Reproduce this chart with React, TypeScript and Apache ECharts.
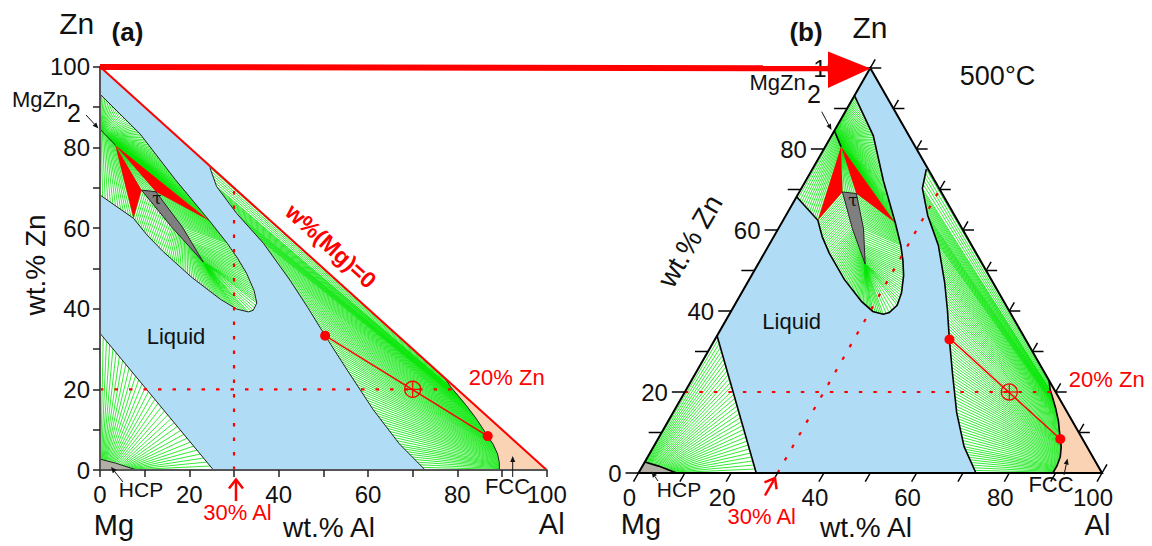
import React, { useEffect, useRef } from "react";
import * as echarts from "echarts";

const FONT = "'Liberation Sans', Arial, Helvetica, sans-serif";

// Compositions are [wt.% Al, wt.% Zn]; Mg is the balance.
const systemTriangle = [[0, 0], [100, 0], [0, 100]];
const alZnEdge = [[0, 100], [100, 0]];

// Mg-rich corner: HCP and L + HCP
const hcpSolvus = [[0, 2.7], [3.5, 1.7], [8.2, 0]];
const hcpLiquidus = [[0, 33.9], [25.4, 0]];
// tie-line anchors: [solid Al, solid Zn, liquid Al, liquid Zn]
const hcpTies = [
  [0, 2.7, 0, 33.9],
  [1.5, 2.27, 6.5, 25.2],
  [3.5, 1.7, 13.0, 16.55],
  [6.0, 0.8, 19.5, 7.9],
  [8.2, 0, 25.4, 0],
];

// Al-rich side: FCC and L + FCC (points pair up by index as tie-line ends)
const fccLiquidus = [
  [24.6, 75.0], [26.1, 70.3], [30.6, 63.6], [36.6, 56.2], [42.5, 47.1], [46.5, 40.3],
  [50.4, 33.3], [55.5, 24.5], [61.2, 14.9], [67.0, 6.5], [72.8, 0],
];
const fccSolidus = [
  [77.2, 22.8], [78.5, 20.6], [80.2, 18.4], [82.0, 16.0], [84.2, 12.8], [85.6, 10.4],
  [86.8, 8.4], [88.0, 6.4], [89.0, 4.0], [89.4, 1.8], [89.4, 0],
];

// Zn-rich lens: MgZn2, tau and the liquid around them
const lensUpper = [
  [0, 93.2], [9.0, 83.3], [16.8, 72.1], [24.5, 61.8], [28.5, 56.2], [30.8, 52.5],
  [32.8, 48.8], [34.5, 44.5], [35.1, 41.4], [34.3, 39.6], [33.2, 39.2],
];
const lensLower = [
  [33.2, 39.2], [30.6, 39.9], [27.0, 42.3], [20.5, 47.8], [14.0, 54.3], [10.5, 58.3],
  [7.5, 62.4], [0, 68.2],
];
const mgZn2Line = [[0, 84.5], [3.4, 80.6]];
const tauPhase = [[9.3, 69.4], [12.5, 69.0], [18.4, 60.3], [23.1, 51.6], [16.0, 60.3]];
const threePhaseLeft = [[3.4, 80.6], [7.5, 62.4], [9.3, 69.4]];
const threePhaseRight = [[3.4, 80.6], [24.5, 61.8], [12.5, 69.0]];
const mgZn2UpperTies = [
  [0, 84.5, 0, 93.2],
  [1.7, 82.55, 9.0, 83.3],
  [3.4, 80.6, 16.8, 72.1],
  [3.4, 80.6, 24.5, 61.8],
];
const mgZn2LowerTies = [
  [0, 84.5, 0, 68.2],
  [3.4, 80.6, 7.5, 62.4],
];
const mgZn2TauTies = [
  [3.4, 80.6, 9.3, 69.4],
  [3.4, 80.6, 12.5, 69.0],
];
const tauLiquidTies = [
  [9.3, 69.4, 7.5, 62.4],
  [12.65, 64.85, 10.5, 58.3],
  [16.0, 60.3, 14.0, 54.3],
  [20.0, 55.4, 20.5, 47.8],
  [23.1, 51.6, 27.0, 42.3],
  [23.1, 51.6, 30.6, 39.9],
  [23.1, 51.6, 33.2, 39.2],
  [23.1, 51.6, 34.3, 39.6],
  [23.1, 51.6, 35.1, 41.4],
  [23.1, 51.6, 34.5, 44.5],
  [22.0, 53.6, 32.8, 48.8],
  [20.5, 56.4, 30.8, 52.5],
  [18.4, 60.3, 28.5, 56.2],
  [12.5, 69.0, 24.5, 61.8],
];

// Example alloy Mg-30Al-20Zn and its tie line
const zn20Line = [[0, 20], [80, 20]];
const al30Line = [[30, 0], [30, 70]];
const tieLineEnds = [[50.4, 33.3], [86.8, 8.4]];
const alloyPoint = [70, 20];

const axisTicks = [0, 10, 20, 30, 40, 50, 60, 70, 80, 90, 100];
const axisLabelValues = [0, 20, 40, 60, 80, 100];

const BLUE = "#b0ddf5";
const PEACH = "#fad3b5";
const HCP_GRAY = "#b3aea6";
const TAU_GRAY = "#7f7f7f";
const GREEN = "#00e600";
const RED = "#ff0000";

// panel (a): Cartesian wt.% Al / wt.% Zn; panel (b): Gibbs triangle
const transforms = [
  (p: number[]) => [p[0], p[1]],
  (p: number[]) => [p[0] + p[1] / 2, p[1]],
];

// tie lines between consecutive conjugate anchors, spaced about `step` px apart
function hatch(anchors: number[][], step: number) {
  const out: number[][][] = [];
  for (let i = 0; i < anchors.length - 1; i++) {
    const a = anchors[i];
    const b = anchors[i + 1];
    const ls = Math.hypot((b[0] - a[0]) * 4.47, (b[1] - a[1]) * 4.03);
    const ll = Math.hypot((b[2] - a[2]) * 4.47, (b[3] - a[3]) * 4.03);
    const n = Math.max(1, Math.round(Math.max(ls, ll) / step));
    for (let k = 0; k < n; k++) {
      const t = k / n;
      out.push([
        [a[0] + (b[0] - a[0]) * t, a[1] + (b[1] - a[1]) * t],
        [a[2] + (b[2] - a[2]) * t, a[3] + (b[3] - a[3]) * t],
      ]);
    }
  }
  const z = anchors[anchors.length - 1];
  out.push([[z[0], z[1]], [z[2], z[3]]]);
  return out;
}

function shapeSeries(panel: number, shapes: number[][][], kind: string, style: any, z: number) {
  const tf = transforms[panel];
  return {
    type: "custom",
    xAxisIndex: panel,
    yAxisIndex: panel,
    z,
    silent: true,
    data: shapes.map((s) => tf(s[0])),
    renderItem: (params: any, api: any) => {
      const pts = shapes[params.dataIndex].map((p) => api.coord(tf(p)));
      return { type: kind, shape: { points: pts }, style: { ...style } };
    },
  };
}

function hatchSeries(panel: number, fields: number[][][][], width: number, z: number) {
  const tf = transforms[panel];
  return {
    type: "custom",
    xAxisIndex: panel,
    yAxisIndex: panel,
    z,
    silent: true,
    data: fields.map((f) => tf(f[0][0])),
    renderItem: (params: any, api: any) => {
      const lines = fields[params.dataIndex];
      return {
        type: "group",
        children: lines.map(([p, q]) => {
          const a = api.coord(tf(p));
          const b = api.coord(tf(q));
          return {
            type: "line",
            shape: { x1: a[0], y1: a[1], x2: b[0], y2: b[1] },
            style: { stroke: GREEN, lineWidth: width },
          };
        }),
      };
    },
  };
}

function alloySeries(panel: number, z: number) {
  const tf = transforms[panel];
  return {
    type: "custom",
    xAxisIndex: panel,
    yAxisIndex: panel,
    z,
    silent: true,
    data: [tf(alloyPoint)],
    renderItem: (params: any, api: any) => {
      const e0 = api.coord(tf(tieLineEnds[0]));
      const e1 = api.coord(tf(tieLineEnds[1]));
      const c = api.coord(tf(alloyPoint));
      const r = 8;
      return {
        type: "group",
        children: [
          { type: "line", shape: { x1: e0[0], y1: e0[1], x2: e1[0], y2: e1[1] }, style: { stroke: RED, lineWidth: 1.5 } },
          { type: "circle", shape: { cx: e0[0], cy: e0[1], r: 5 }, style: { fill: RED } },
          { type: "circle", shape: { cx: e1[0], cy: e1[1], r: 5 }, style: { fill: RED } },
          { type: "circle", shape: { cx: c[0], cy: c[1], r }, style: { fill: "none", stroke: RED, lineWidth: 1.3 } },
          { type: "line", shape: { x1: c[0] - r, y1: c[1], x2: c[0] + r, y2: c[1] }, style: { stroke: RED, lineWidth: 1.2 } },
          { type: "line", shape: { x1: c[0], y1: c[1] - r, x2: c[0], y2: c[1] + r }, style: { stroke: RED, lineWidth: 1.2 } },
        ],
      };
    },
  };
}

// Gibbs-triangle frame with its three scales
function ternaryFrameSeries(z: number) {
  const tf = transforms[1];
  return {
    type: "custom",
    xAxisIndex: 1,
    yAxisIndex: 1,
    z,
    silent: true,
    data: [tf(systemTriangle[0])],
    renderItem: (params: any, api: any) => {
      const c = (al: number, zn: number) => api.coord(tf([al, zn]));
      const tick = (x1: number, y1: number, x2: number, y2: number) => ({
        type: "line",
        shape: { x1, y1, x2, y2 },
        style: { stroke: "#000", lineWidth: 1.5 },
      });
      const label = (x: number, y: number, text: string, align: string) => ({
        type: "text",
        x,
        y,
        style: { text, fill: "#111", fontSize: 24, fontFamily: FONT, align, verticalAlign: "middle" },
      });
      const children: any[] = [];
      for (const v of axisTicks) {
        const l = c(0, v);
        children.push(tick(l[0] - 13, l[1], l[0], l[1]));
        const b = c(v, 0);
        children.push(tick(b[0], b[1], b[0] - 5, b[1] + 8.7));
        const r = c(100 - v, v);
        if (v > 0) children.push(tick(r[0], r[1], r[0] + 11, r[1]));
        children.push(tick(r[0], r[1], r[0] + 5, r[1] - 8.7));
        if (axisLabelValues.includes(v)) {
          children.push(label(l[0] - 17, l[1], String(v), "right"));
          children.push(label(b[0] - 9, b[1] + 24, String(v), "center"));
        }
      }
      const corners = systemTriangle.map((p) => c(p[0], p[1]));
      children.push({
        type: "polygon",
        shape: { points: corners },
        style: { fill: "none", stroke: "#000", lineWidth: 2 },
      });
      return { type: "group", children };
    },
  };
}

function buildSeries() {
  const hcpTwoPhase = [...hcpSolvus, ...[...hcpLiquidus].reverse()];
  const fccTwoPhase = [...fccLiquidus, ...[...fccSolidus].reverse()];
  const fccField = [...fccSolidus, [100, 0]];
  const hcpField = [[0, 0], ...hcpSolvus];
  const lensField = [...lensUpper, ...lensLower.slice(1)];
  const lensOutline = [...lensUpper, ...lensLower.slice(1)];
  const fields = [
    hatch(mgZn2UpperTies, 2.3),
    hatch(mgZn2LowerTies, 3.2),
    hatch(mgZn2TauTies, 2.0),
    hatch(tauLiquidTies, 2.6),
    hatch(fccLiquidus.map((p, i) => [fccSolidus[i][0], fccSolidus[i][1], p[0], p[1]]), 3.8),
    hatch(hcpTies, 5.0),
  ];
  const series: any[] = [];
  for (const panel of [0, 1]) {
    const edge = panel === 0 ? { stroke: "#222", lineWidth: 1, fill: "none" } : { stroke: "#000", lineWidth: 1.6, fill: "none" };
    series.push(shapeSeries(panel, [systemTriangle], "polygon", { fill: BLUE }, 1));
    series.push(shapeSeries(panel, [hcpTwoPhase, fccTwoPhase, lensField], "polygon", { fill: "#ffffff" }, 2));
    series.push(shapeSeries(panel, [fccField], "polygon", { fill: PEACH }, 2));
    series.push(shapeSeries(panel, [hcpField], "polygon", { fill: HCP_GRAY }, 2));
    series.push(hatchSeries(panel, fields, 0.8, 3));
    series.push(shapeSeries(panel, [threePhaseLeft, threePhaseRight], "polygon", { fill: RED }, 4));
    series.push(shapeSeries(panel, [tauPhase], "polygon", { fill: TAU_GRAY, stroke: "#222", lineWidth: 1 }, 4));
    series.push(
      shapeSeries(panel, [lensOutline, mgZn2Line, fccLiquidus, fccSolidus, hcpLiquidus, hcpSolvus], "polyline", edge, 5)
    );
    series.push(
      shapeSeries(panel, [zn20Line, al30Line], "polyline", { stroke: RED, lineWidth: 2.2, lineDash: [3.5, 11], fill: "none" }, 6)
    );
    series.push(alloySeries(panel, 7));
  }
  series.push(shapeSeries(0, [alZnEdge], "polyline", { stroke: RED, lineWidth: 2, fill: "none" }, 8));
  series.push(ternaryFrameSeries(8));
  return series;
}

function txt(x: number, y: number, text: string, size: number, opts: any = {}) {
  return {
    type: "text",
    x,
    y,
    z: 100,
    rotation: opts.rotation || 0,
    style: {
      text,
      fill: opts.color || "#111",
      fontSize: size,
      fontFamily: opts.family || FONT,
      fontWeight: opts.bold ? "bold" : "normal",
      align: opts.align || "center",
      verticalAlign: "middle",
    },
  };
}

function arrow(x1: number, y1: number, x2: number, y2: number, color: string, w: number, hl: number, hw: number) {
  const L = Math.hypot(x2 - x1, y2 - y1);
  const ux = (x2 - x1) / L;
  const uy = (y2 - y1) / L;
  const bx = x2 - ux * hl;
  const by = y2 - uy * hl;
  return [
    { type: "line", z: 100, shape: { x1, y1, x2: bx, y2: by }, style: { stroke: color, lineWidth: w } },
    {
      type: "polygon",
      z: 100,
      shape: { points: [[x2, y2], [bx - uy * hw, by + ux * hw], [bx + uy * hw, by - ux * hw]] },
      style: { fill: color },
    },
  ];
}

function openArrow(x1: number, y1: number, x2: number, y2: number, color: string, w: number, hl: number, hw: number) {
  const L = Math.hypot(x2 - x1, y2 - y1);
  const ux = (x2 - x1) / L;
  const uy = (y2 - y1) / L;
  const bx = x2 - ux * hl;
  const by = y2 - uy * hl;
  return [
    { type: "line", z: 100, shape: { x1, y1, x2, y2 }, style: { stroke: color, lineWidth: w } },
    {
      type: "polyline",
      z: 100,
      shape: { points: [[bx - uy * hw, by + ux * hw], [x2, y2], [bx + uy * hw, by - ux * hw]] },
      style: { stroke: color, lineWidth: w, fill: "none" },
    },
  ];
}

function buildGraphic() {
  return [
    // panel (a)
    txt(76.7, 23.5, "Zn", 30),
    txt(127.5, 32, "(a)", 26, { bold: true }),
    txt(40, 99, "MgZn", 22),
    txt(74, 113, "2", 25),
    ...arrow(86, 115, 98.5, 128.5, "#111", 1, 6, 2.5),
    txt(157, 198, "τ", 17, { family: "'DejaVu Serif', serif" }),
    txt(176, 336, "Liquid", 22),
    txt(35, 265, "wt.% Zn", 28, { rotation: Math.PI / 2 }),
    txt(141, 489.5, "HCP", 21),
    ...arrow(123, 482, 111, 467, "#111", 1, 6, 2.5),
    txt(114, 525, "Mg", 29),
    txt(329, 527, "wt.% Al", 28),
    txt(551.7, 524, "Al", 29),
    txt(237.5, 512.5, "30% Al", 22, { color: RED }),
    ...openArrow(236, 501, 236, 479.5, RED, 2.5, 9, 7),
    txt(506.7, 377.5, "20% Zn", 22, { color: RED }),
    txt(507.5, 486, "FCC", 22),
    ...arrow(512.7, 477, 512.7, 456, "#111", 1, 6, 2.5),
    txt(331, 246, "w%(Mg)=0", 23, { color: RED, bold: true, rotation: -0.735 }),
    // panel (b)
    txt(806, 32, "(b)", 26, { bold: true }),
    txt(870, 27, "Zn", 30),
    txt(997.5, 76, "500°C", 27),
    txt(777.5, 82, "MgZn", 22),
    txt(814, 94, "2", 25),
    ...arrow(821.7, 111.7, 831.5, 130, "#111", 1, 6, 2.5),
    txt(853, 200, "τ", 17, { family: "'DejaVu Serif', serif" }),
    txt(791.7, 321, "Liquid", 22),
    txt(690, 241, "wt.% Zn", 28, { rotation: Math.PI / 3 }),
    txt(679, 489, "HCP", 21),
    ...arrow(658, 481, 651.5, 471.5, "#111", 1, 6, 2.5),
    txt(641, 524, "Mg", 29),
    txt(866, 527, "wt.% Al", 28),
    txt(1097.5, 525, "Al", 29),
    txt(761.7, 516, "30% Al", 22, { color: RED }),
    ...openArrow(765, 495.5, 775, 478, RED, 2.5, 9, 7),
    txt(1106.7, 379, "20% Zn", 22, { color: RED }),
    txt(1051, 484, "FCC", 22),
    ...arrow(1064, 475, 1067.5, 458.5, "#111", 1, 6, 2.5),
    // link between the two Zn corners
    { type: "line", z: 110, shape: { x1: 100, y1: 67, x2: 831, y2: 68.3 }, style: { stroke: RED, lineWidth: 6 } },
    {
      type: "polygon",
      z: 110,
      shape: { points: [[828, 51.5], [870.5, 68.5], [828, 88]] },
      style: { fill: RED },
    },
  ];
}

export default function App() {
  const ref = useRef<HTMLDivElement>(null);
  useEffect(() => {
    if (!ref.current) return;
    const chart = echarts.init(ref.current, undefined, { renderer: "svg" });
    const labelFmt = (v: number) => (v % 20 === 0 ? String(v) : "");
    const axisBase = {
      type: "value",
      min: 0,
      max: 100,
      interval: 10,
      z: 10,
      splitLine: { show: false },
      axisLine: { show: true, onZero: false, lineStyle: { color: "#555", width: 2 } },
      axisTick: { show: true, length: 7, lineStyle: { color: "#222", width: 1.5 } },
    };
    chart.setOption({
      animation: false,
      backgroundColor: "#ffffff",
      grid: [
        { left: 100, top: 66.7, width: 446.7, height: 403.3, outerBoundsMode: "none" },
        { left: 638.5, top: 68, width: 463.5, height: 405, outerBoundsMode: "none" },
      ],
      xAxis: [
        {
          ...axisBase,
          gridIndex: 0,
          axisLabel: { formatter: labelFmt, fontSize: 24, color: "#111", margin: 12, fontFamily: FONT },
        },
        { type: "value", gridIndex: 1, min: 0, max: 100, show: false },
      ],
      yAxis: [
        {
          ...axisBase,
          gridIndex: 0,
          axisLabel: { formatter: labelFmt, fontSize: 24, color: "#111", margin: 10, fontFamily: FONT },
        },
        { type: "value", gridIndex: 1, min: 0, max: 100, show: false },
      ],
      series: buildSeries(),
      graphic: buildGraphic(),
    });
    return () => chart.dispose();
  }, []);
  return <div ref={ref} style={{ position: "absolute", left: 0, top: 0, width: 1152, height: 546 }} />;
}
